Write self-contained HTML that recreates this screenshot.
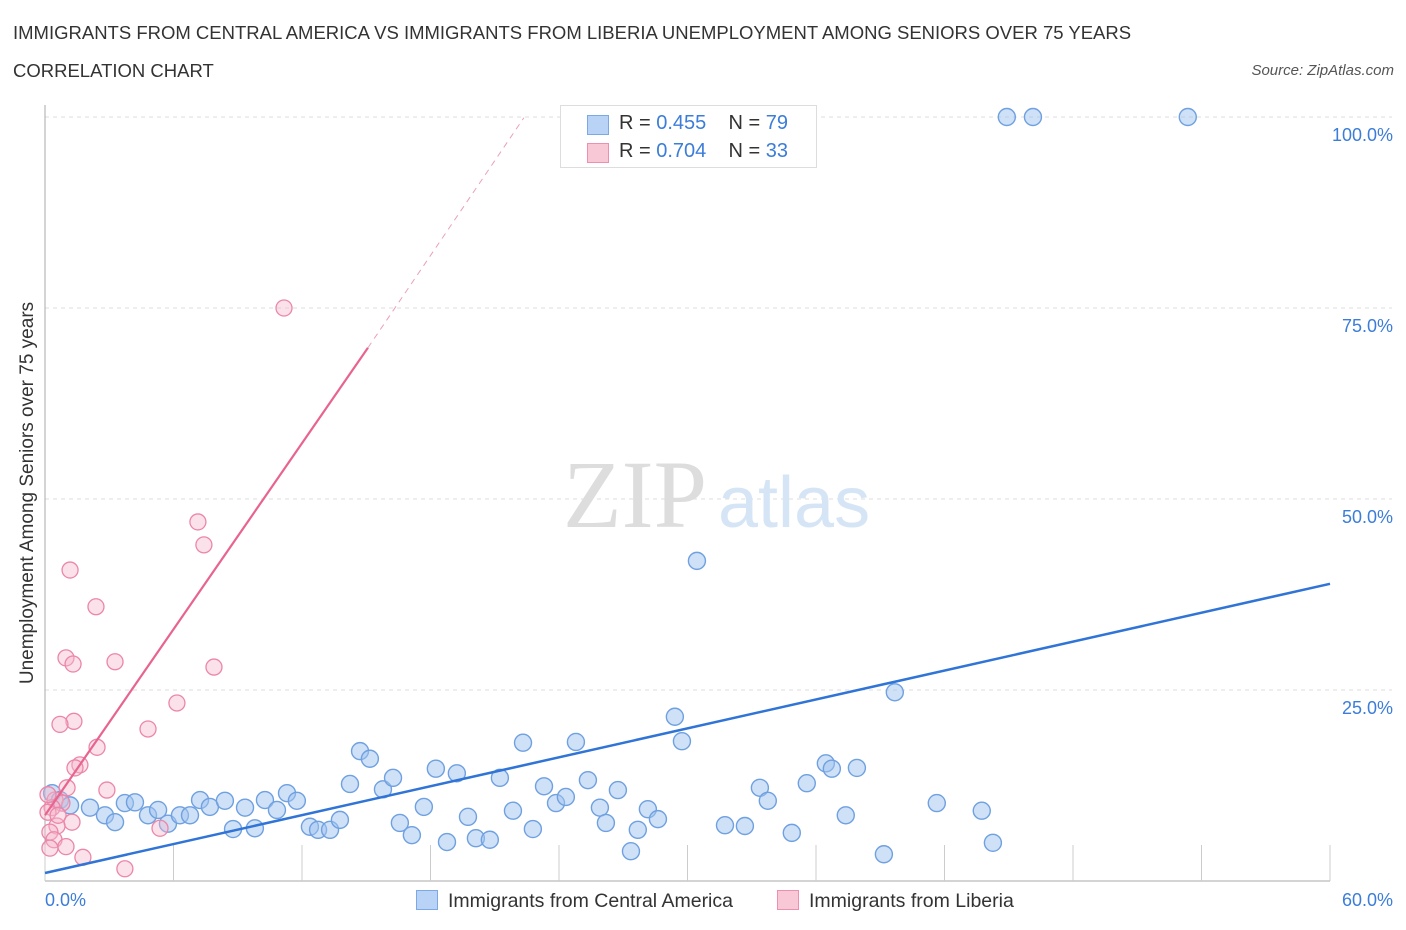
<!DOCTYPE html>
<html><head><meta charset="utf-8"><style>
body{margin:0;background:#fff;font-family:"Liberation Sans",sans-serif;}
#c{position:relative;width:1406px;height:930px;overflow:hidden;}
.t{position:absolute;white-space:nowrap;}
</style></head><body>
<div id="c">
<div class="t" style="left:13px;top:22px;font-size:18.5px;color:#333">IMMIGRANTS FROM CENTRAL AMERICA VS IMMIGRANTS FROM LIBERIA UNEMPLOYMENT AMONG SENIORS OVER 75 YEARS</div>
<div class="t" style="left:13px;top:60px;font-size:18.5px;color:#333">CORRELATION CHART</div>
<div class="t" style="right:12px;top:62px;font-size:15px;color:#555;font-style:italic">Source: ZipAtlas.com</div>
<svg id="s" width="1406" height="930" style="position:absolute;left:0;top:0"></svg>
</div>
<script>
const yTicks=[25,50,75,100];
const yTickLabels=["25.0%","50.0%","75.0%","100.0%"];
const blueX=[0.33,0.70,1.17,2.10,2.80,3.27,3.73,4.20,4.81,5.28,5.74,6.30,6.77,7.24,7.70,8.40,8.78,9.34,9.80,10.27,10.83,11.30,11.76,12.37,12.75,13.31,13.77,14.24,14.71,15.17,15.78,16.25,16.57,17.13,17.69,18.25,18.77,19.23,19.75,20.12,20.77,21.24,21.85,22.32,22.78,23.30,23.86,24.32,24.79,25.35,25.91,26.19,26.75,27.36,27.68,28.15,28.62,29.41,29.74,30.44,31.75,32.68,33.38,33.75,34.87,35.57,36.46,36.74,37.39,37.91,39.17,39.68,41.64,43.74,44.26,44.91,46.13,53.36];
const blueY=[11.5,10.6,9.9,9.6,8.6,7.7,10.2,10.3,8.6,9.3,7.5,8.6,8.6,10.6,9.7,10.5,6.8,9.6,6.9,10.6,9.3,11.5,10.5,7.1,6.7,6.7,8.0,12.7,17.0,16.0,12.0,13.5,7.6,6.0,9.7,14.7,5.1,14.1,8.4,5.6,5.4,13.5,9.2,18.1,6.8,12.4,10.2,11.0,18.2,13.2,9.6,7.6,11.9,3.9,6.7,9.4,8.1,21.5,18.3,41.9,7.3,7.2,12.2,10.5,6.3,12.8,15.4,14.7,8.6,14.8,3.5,24.7,10.2,9.2,5.0,100,100,100];
const pinkX=[11.16,7.14,7.42,1.17,2.38,0.98,1.31,3.27,7.89,6.16,1.35,0.70,4.81,2.43,1.63,1.40,2.89,1.03,0.47,0.79,0.33,0.14,1.26,0.56,0.23,0.42,0.98,0.23,1.77,3.73,5.37,0.14,0.61];
const pinkY=[75.0,47.0,44.0,40.7,35.9,29.2,28.4,28.7,28.0,23.3,20.9,20.5,19.9,17.5,15.2,14.8,11.9,12.2,10.6,10.2,9.6,9.0,7.7,7.2,6.4,5.4,4.5,4.3,3.1,1.6,6.9,11.3,8.6];
const blueLine=[[0,1.05],[60,38.9]];
const pinkLine=[[0,8.6],[15.08,69.8]];
const pinkDash=[[15.08,69.8],[22.36,99.9]];
const X=v=>45+v*(1285/60), Y=v=>881-v*7.64;
const s=document.getElementById('s'),NS='http://www.w3.org/2000/svg';
function mk(t,a,p){const e=document.createElementNS(NS,t);for(const k in a)e.setAttribute(k,a[k]);(p||s).appendChild(e);return e;}
yTicks.forEach((v,i)=>{
 const g=mk('line',{x1:45,x2:1392,y1:Y(v),y2:Y(v),stroke:'#ddd','stroke-dasharray':'4,4'});
 
 
 const t=mk('text',{x:1393,y:Y(v)+24,'text-anchor':'end','font-size':18,fill:'#3b7dd8'});
 t.textContent=yTickLabels[i];
 
 
});
let a=mk('line',{x1:45,x2:45,y1:105,y2:881,stroke:'#aaa'});


a=mk('line',{x1:45,x2:1330,y1:881,y2:881,stroke:'#aaa'});


for(let i=0;i<=10;i++){const tk=mk('line',{x1:X(i*6),x2:X(i*6),y1:845,y2:881,stroke:'#ccc'});
 
 }
let w=mk('text',{x:635,y:527,'text-anchor':'middle','font-size':96,fill:'#ddd','font-family':'Liberation Serif'});w.textContent='ZIP';


w=mk('text',{x:718,y:527,'font-size':72,fill:'#d6e5f5'});w.textContent='atlas';


blueX.forEach((v,i)=>{const c=mk('circle',{cx:X(v),cy:Y(blueY[i]),r:8.5,fill:'rgba(160,196,240,0.5)',stroke:'#6fa0e0','stroke-width':1.4});
 
 });
pinkX.forEach((v,i)=>{const c=mk('circle',{cx:X(v),cy:Y(pinkY[i]),r:8,fill:'rgba(246,182,202,0.4)',stroke:'#ec86a8','stroke-width':1.3});
 
 });
let l=mk('line',{x1:X(blueLine[0][0]),y1:Y(blueLine[0][1]),x2:X(blueLine[1][0]),y2:Y(blueLine[1][1]),stroke:'#2f74d6','stroke-width':2.5});


l=mk('line',{x1:X(pinkLine[0][0]),y1:Y(pinkLine[0][1]),x2:X(pinkLine[1][0]),y2:Y(pinkLine[1][1]),stroke:'#e8648e','stroke-width':2.2});


l=mk('line',{x1:X(pinkDash[0][0]),y1:Y(pinkDash[0][1]),x2:X(pinkDash[1][0]),y2:Y(pinkDash[1][1]),stroke:'#eaa0b8','stroke-width':1,'stroke-dasharray':'6,5'});


</script>
<div class="t" style="left:45px;top:890px;font-size:18px;color:#3b7dd8">0.0%</div>
<div class="t" style="right:13px;top:890px;font-size:18px;color:#3b7dd8">60.0%</div>
<div class="t" style="top:493px;font-size:19px;color:#333;transform:translate(-50%,-50%) rotate(-90deg);left:28px">Unemployment Among Seniors over 75 years</div>
<div class="t" style="left:560px;top:105px;width:255px;height:61px;border:1px solid #ddd;background:#fff;font-size:20px;color:#333">
 <div style="position:absolute;left:26px;top:9px;width:20px;height:18px;background:#b8d3f5;border:1px solid #7aa9e6"></div>
 <div style="position:absolute;left:58px;top:6px">R = <span style="color:#3b7dd8">0.455</span>&nbsp;&nbsp;&nbsp; N = <span style="color:#3b7dd8">79</span></div>
 <div style="position:absolute;left:26px;top:37px;width:20px;height:18px;background:#f8c8d6;border:1px solid #ef8fb0"></div>
 <div style="position:absolute;left:58px;top:34px">R = <span style="color:#3b7dd8">0.704</span>&nbsp;&nbsp;&nbsp; N = <span style="color:#3b7dd8">33</span></div>
</div>
<div class="t" style="left:416px;top:890px;font-size:19.5px;color:#333"><span style="display:inline-block;width:20px;height:18px;background:#b8d3f5;border:1px solid #7aa9e6;vertical-align:-3px;margin-right:10px"></span>Immigrants from Central America</div>
<div class="t" style="left:777px;top:890px;font-size:19.5px;color:#333"><span style="display:inline-block;width:20px;height:18px;background:#f8c8d6;border:1px solid #ef8fb0;vertical-align:-3px;margin-right:10px"></span>Immigrants from Liberia</div>
</body></html>
